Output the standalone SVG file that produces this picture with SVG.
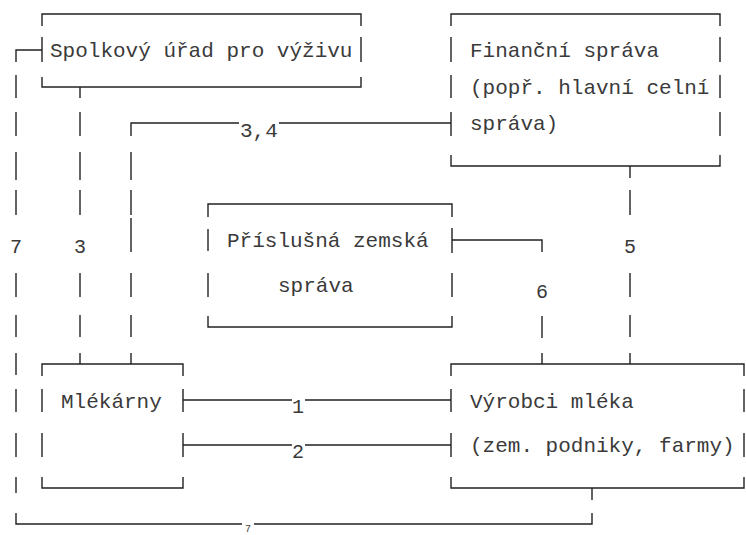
<svg xmlns="http://www.w3.org/2000/svg" width="746" height="535" viewBox="0 0 746 535">
<style>
.b{fill:none;stroke:#222;stroke-width:1.4}
.t{font-family:"Liberation Mono","DejaVu Sans Mono",monospace;font-size:21px;fill:#3a3a3a}
.n{font-family:"Liberation Mono","DejaVu Sans Mono",monospace;font-size:20px;fill:#3a3a3a;text-anchor:middle}
</style>
<rect width="746" height="535" fill="#fff"/>
<g id="spolkovy">
<path class="b" d="M42,26V14H361V26M42,77V87H361V77M42,37V62M361,37V62"/>
<text class="t" x="50" y="57">Spolkový úřad pro výživu</text>
</g>
<g id="financni">
<path class="b" d="M451,26V14H720V26M451,155V166H720V155M451,37V62M451,75V98M451,112V136M720,37V62M720,75V98M720,112V136"/>
<text class="t" x="470" y="57">Finanční správa</text>
<text class="t" x="470" y="94">(popř. hlavní celní</text>
<text class="t" x="470" y="130">správa)</text>
</g>
<g id="prislusna">
<path class="b" d="M208,217V204H452V217M208,316V327H452V316M208,229V251M208,273V297M452,228V253M452,273V297"/>
<text class="t" x="227" y="247">Příslušná zemská</text>
<text class="t" x="278" y="292">správa</text>
</g>
<g id="mlekarny">
<path class="b" d="M42,376V364H183V376M42,477V488H183V477M42,389V412M42,433V457M183,389V412M183,433V457"/>
<text class="t" x="61" y="408">Mlékárny</text>
</g>
<g id="vyrobci">
<path class="b" d="M451,376V364H744V376M451,477V488H744V477M451,389V412M451,433V457M744,389V412M744,433V457"/>
<text class="t" x="470" y="408">Výrobci mléka</text>
<text class="t" x="470" y="452">(zem. podniky, farmy)</text>
</g>
<g id="connectors">
<path class="b" d="M42,50H16V62M16,75V98M16,112V136M16,152V180M16,190V215M16,273V297M16,315V337M16,353V375M16,389V412M16,433V457M16,477V493M16,513V524H242M254,524H592V513M592,488V500"/>
<text class="n" x="248" y="532" style="font-size:10px">7</text>
<text class="n" x="16" y="253">7</text>
<path class="b" d="M80,87V98M80,112V136M80,152V180M80,190V215M80,273V297M80,315V337M80,353V364"/>
<text class="n" x="80" y="253">3</text>
<path class="b" d="M451,123H279M239,123H131V136M131,152V180M131,190V215M131,218V252M131,273V297M131,315V337M131,353V364"/>
<text class="t" x="240" y="137">3,4</text>
<path class="b" d="M630,166V178M630,190V215M630,273V297M630,315V337M630,353V364"/>
<text class="n" x="630" y="253">5</text>
<path class="b" d="M452,240H542V252M542,316V338M542,353V364"/>
<text class="n" x="542" y="298">6</text>
<path class="b" d="M183,400H292M305,400H451M183,445H292M305,445H451"/>
<text class="n" x="298" y="413">1</text>
<text class="n" x="298" y="458">2</text>
</g>
</svg>
